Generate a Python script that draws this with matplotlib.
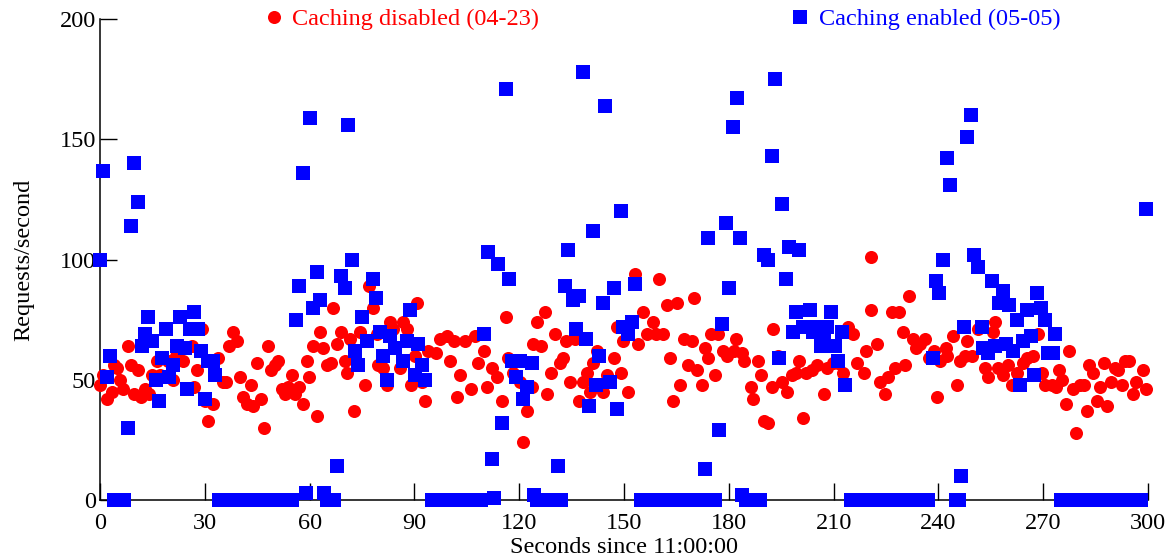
import matplotlib
matplotlib.use("Agg")
import matplotlib.pyplot as plt

# Caching disabled (04-23): seconds since 11:00:00, requests/second
disabled_secs = [0, 0.9, 2, 3.4, 4, 4.9, 5.7, 6.6, 8, 8.9, 9.7, 10.9, 11.7, 12.9, 14, 14.9,
                 16.3, 17.2, 18.6, 19.5, 20.9, 21.8, 23.8, 26.3, 26.9, 27.8, 29.2, 30.1, 30.9,
                 32.4, 33.8, 35.2, 36.1, 36.9, 38.1, 39.2, 40.1, 40.9, 42.1, 43.2, 43.8, 45,
                 46.1, 47, 48.1, 49, 50.1, 51, 52.1, 53, 53.8, 55, 55.8, 57, 58.1, 59.3, 59.8,
                 61, 62.1, 63, 63.8, 65, 66.1, 66.7, 67.9, 69, 70.1, 70.7, 71.6, 72.7,
                 74.5, 75.9, 77, 78.2, 79.3, 79.6, 81, 82.2, 83, 83.9, 85.9, 86.8, 87.9, 89.1,
                 90.2, 90.8, 92.2, 93.1, 94, 96.2, 97.3, 99.3, 100.2, 101.3, 102.2, 103.1,
                 104.5, 106.2, 107.4, 108.2, 109.9, 110.8, 112.2, 113.7, 115.1, 116.2, 116.8,
                 118.2, 120.2, 121.1, 122.2, 123.7, 124, 125.1, 126.3, 127.4, 128, 129.1,
                 130.3, 131.7, 132.6, 133.4, 134.6, 136, 137.1, 138.3, 139.4, 140.3, 141.1,
                 142.3, 144, 145.2, 147.2, 148, 149.2, 149.7, 151.2, 153.2, 154, 155.5, 156.6,
                 158.3, 159.2, 160, 161.2, 162.3, 163.2, 164, 165.2, 166, 167.2, 168.3, 169.5,
                 170.1, 170.9, 172.3, 173.2, 174.1, 174.9, 176.1, 176.9, 178.4, 179.5, 181.5,
                 182.1, 183.8, 184.4, 186.4, 187, 188.4, 189.2, 190.1, 191.2, 192.4, 192.7,
                 194.1, 195.3, 196.7, 198.1, 199.3, 200.1, 201.3, 202.1, 203.8, 205.3, 206.1,
                 207.3, 208.1, 209.9, 211.3, 212.7, 214.2, 215.6, 216.8, 218.6, 219.2, 220.6,
                 220.8, 222.5, 223.4, 224.6, 225.5, 226.6, 227.5, 228.6, 229.8, 230.4, 231.5,
                 232.6, 233.5, 234.6, 236.3, 237.2, 238.7, 239.5, 240.6, 242.3, 242.6, 244.3,
                 245.4, 246.3, 247.7, 248.3, 249.7, 251.4, 253.4, 254.3, 255.7, 256.3, 257.2,
                 258.6, 260, 261.1, 262.6, 264.3, 265.4, 267.1, 268.5, 269.7, 270.5, 272.6,
                 273.7, 274.6, 275.4, 276.6, 277.4, 278.6, 279.4, 280.6, 281.7, 282.6, 283.1,
                 284.3, 285.4, 286.3, 287.4, 288.3, 289.4, 290.6, 291.5, 292.6, 293.5, 294.6,
                 295.7, 296.6, 298.6, 299.5]
disabled_vals = [48, 52, 42, 45, 56, 55, 50, 46, 64, 56, 44, 54, 43, 46, 44, 52,
                 58, 52, 51, 58, 50, 60, 58, 64, 47, 54, 71, 41, 33,
                 40, 59, 49, 49, 64, 70, 66, 51, 43, 40, 48, 39, 57,
                 42, 30, 64, 54, 56, 58, 46, 44, 47, 52, 44, 47, 40, 58, 51,
                 64, 35, 70, 63, 56, 57, 80, 65, 70, 58, 53, 67, 37,
                 70, 48, 89, 80, 69, 56, 55, 48, 74, 71, 55, 74, 71, 48,
                 60, 82, 49, 41, 62, 61, 67, 68, 58, 66, 43, 52,
                 66, 46, 68, 57, 62, 47, 55, 51, 41, 76, 59,
                 53, 49, 24, 37, 47, 65, 74, 64, 78, 44, 53,
                 69, 57, 59, 66, 49, 67, 41, 49, 53, 45, 57,
                 62, 45, 52, 59, 72, 53, 66, 45, 94, 65, 78, 69,
                 74, 69, 92, 69, 81, 59, 41, 82, 48, 67, 56, 66,
                 84, 54, 48, 63, 59, 69, 52, 69, 62, 60, 62,
                 67, 61, 58, 47, 42, 58, 52, 33, 32, 47, 71,
                 60, 49, 45, 52, 53, 58, 34, 53, 54, 56, 67,
                 44, 55, 57, 57, 53, 72, 69, 57, 53, 62, 79,
                 101, 65, 49, 44, 51, 78, 55, 78, 70, 56, 85,
                 67, 63, 65, 67, 59, 62, 43, 58, 63, 60, 68,
                 48, 58, 60, 66, 60, 71, 55, 51, 70, 74, 55,
                 52, 56, 48, 53, 57, 59, 60, 69, 53, 48, 48,
                 47, 54, 50, 40, 62, 46, 28, 48, 48, 37, 56,
                 53, 41, 47, 57, 39, 49, 55, 54, 48, 58, 58,
                 44, 49, 54, 46]

# Caching enabled (05-05)
enabled_secs = [0, 0.9, 2, 2.9, 4, 5, 6, 7, 8, 8.9, 9.7, 10.9, 12, 12.9, 13.7, 14.9, 16, 16.9,
                17.7, 18.9, 19.8, 20.9, 22, 22.9, 24.3, 24.9, 25.8, 26.9, 28.1, 28.9, 30.1,
                30.9, 32.4, 32.9,
                34, 35, 36, 37, 38, 39, 40, 41, 42, 43, 44, 45, 46, 47, 48, 49, 50, 51, 52,
                53, 54, 55,
                56.1, 57, 58.1, 59, 60.1, 61, 62.1, 63, 64.1, 65, 66, 67, 67.9, 69, 70.1, 71,
                72.1, 73, 73.9, 75, 76.4, 78.2, 79, 80.2, 81, 82.2, 83, 84.5, 86.7, 87.9,
                88.7, 90.2, 91, 92.2, 93.1,
                95, 96, 97, 98, 99, 100, 101, 102, 103, 104, 105, 106, 107, 108, 109,
                109.9, 111.1, 112.2, 112.8, 113.9, 115.1, 116.2, 117.1, 118, 119.1, 120.2,
                121.1, 122.2, 123.7, 124.2,
                125, 126, 127, 128, 129, 130, 131, 132,
                131.1, 133.1, 134, 135.4, 136.3, 137.1, 138.3, 139.1, 140, 141.1, 142, 142.9,
                144, 144.6, 146, 147.2, 148, 149.2, 149.7, 151.2, 152.3, 153.2,
                155, 156, 157, 158, 159, 160, 161, 162, 163, 164, 165, 166, 167, 168, 169,
                170, 171, 172, 173, 174, 175, 176,
                173.2, 174.1, 177.2, 178.1, 179.2, 180.1, 181.2, 182.4, 183.2, 183.8,
                185, 186, 187, 188, 189,
                190.1, 191.2, 192.4, 193.2, 194.4, 195.3, 196.4, 197.3, 198.4, 199.3, 200.1,
                201.3, 202.1, 203.3, 204.1, 205.3, 206.4, 207.3, 208.1, 209.3, 210.4, 211.3,
                212.4, 213.3,
                215, 216, 217, 218, 219, 220, 221, 222, 223, 224, 225, 226, 227, 228, 229,
                230, 231, 232, 233, 234, 235, 236, 237,
                238.5, 239.3, 240.2, 241.3, 242.5, 243.3, 245, 246, 246.5, 247.4, 248.2,
                249.4, 250.2, 251.4, 252.5, 252.8, 254.2, 255.4, 256.2, 257.4, 258.5, 259.4,
                260.2, 261.4, 262.5, 263.4, 264.2, 265.4, 266.5, 267.4, 268.3, 269.4, 270.5,
                271.4, 272.8, 273.4,
                275, 276, 277, 278, 279, 280, 281, 282, 283, 284, 285, 286, 287, 288, 289,
                290, 291, 292, 293, 294, 295, 296, 297, 298,
                299.5]
enabled_vals = [100, 137, 51, 60, 0, 0, 0, 0, 30, 114, 140, 124, 64, 69, 76, 66, 50, 41,
                59, 71, 51, 56, 64, 76, 63, 46, 71, 78, 71, 62, 42,
                58, 58, 52,
                0, 0, 0, 0, 0, 0, 0, 0, 0, 0, 0, 0, 0, 0, 0, 0, 0, 0, 0,
                0, 0, 0,
                75, 89, 136, 3, 159, 80, 95, 83, 3, 0, 0, 0, 14, 93, 88, 156,
                100, 62, 56, 76, 66, 92, 84, 70, 60, 50, 68, 63, 58, 66,
                79, 52, 65, 56, 50,
                0, 0, 0, 0, 0, 0, 0, 0, 0, 0, 0, 0, 0, 0, 0,
                69, 103, 17, 1, 98, 32, 171, 92, 58, 51, 58,
                42, 47, 57, 2,
                0, 0, 0, 0, 0, 0, 0, 0,
                14, 89, 104, 83, 71, 85, 178, 67, 39, 112, 48, 60,
                82, 164, 49, 88, 38, 120, 72, 69, 74, 90,
                0, 0, 0, 0, 0, 0, 0, 0, 0, 0, 0, 0, 0, 0, 0,
                0, 0, 0, 0, 0, 0, 0,
                13, 109, 29, 73, 115, 88, 155, 167, 109, 2,
                0, 0, 0, 0, 0,
                102, 100, 143, 175, 59, 123, 92, 105, 70, 78, 104,
                72, 72, 79, 70, 72, 64, 66, 72, 78, 64, 58,
                70, 48,
                0, 0, 0, 0, 0, 0, 0, 0, 0, 0, 0, 0, 0, 0, 0,
                0, 0, 0, 0, 0, 0, 0, 0,
                59, 91, 86, 100, 142, 131, 0, 0, 10, 72, 151,
                160, 102, 97, 72, 63, 61, 91, 64, 82, 87, 65,
                81, 62, 75, 48, 66, 79, 68, 52, 86, 80, 75,
                61, 61, 69,
                0, 0, 0, 0, 0, 0, 0, 0, 0, 0, 0, 0, 0, 0, 0,
                0, 0, 0, 0, 0, 0, 0, 0, 0,
                121]

x_ticks = [0, 30, 60, 90, 120, 150, 180, 210, 240, 270, 300]
y_ticks = [0, 50, 100, 150, 200]

plt.rcParams['font.family'] = ['Liberation Serif', 'DejaVu Serif']
plt.rcParams['font.size'] = 17.5

fig = plt.figure(figsize=(11.74, 5.56), dpi=100)
ax = fig.add_axes([100 / 1174, 56 / 556, 1048 / 1174, 481 / 556])

ax.plot(disabled_secs, disabled_vals, 'o', color='#ff0000', ms=9.4, mew=0,
        clip_on=False, zorder=3, label='Caching disabled (04-23)')
ax.plot(enabled_secs, enabled_vals, 's', color='#0000ff', ms=10, mew=0,
        clip_on=False, zorder=4, label='Caching enabled (05-05)')

ax.set_xlim(0, 300)
ax.set_ylim(0, 200)
ax.set_xticks(x_ticks)
ax.set_yticks(y_ticks)

for s in ['top', 'right']:
    ax.spines[s].set_visible(False)
for s in ['left', 'bottom']:
    ax.spines[s].set_linewidth(1.1)
ax.tick_params(direction='in', length=12, width=1)
ax.tick_params(axis='x', pad=9.5)
ax.tick_params(axis='y', pad=3)

ax.set_xlabel('Seconds since 11:00:00', labelpad=2)
ax.set_ylabel('Requests/second', labelpad=18)

leg = ax.legend(loc='center', bbox_to_anchor=(0.5365, 1.0), ncol=2, frameon=False,
                handlelength=0.8, handletextpad=0.35, columnspacing=10.35,
                labelcolor='markerfacecolor', borderpad=0)

fig.savefig('out.png', dpi=100)
